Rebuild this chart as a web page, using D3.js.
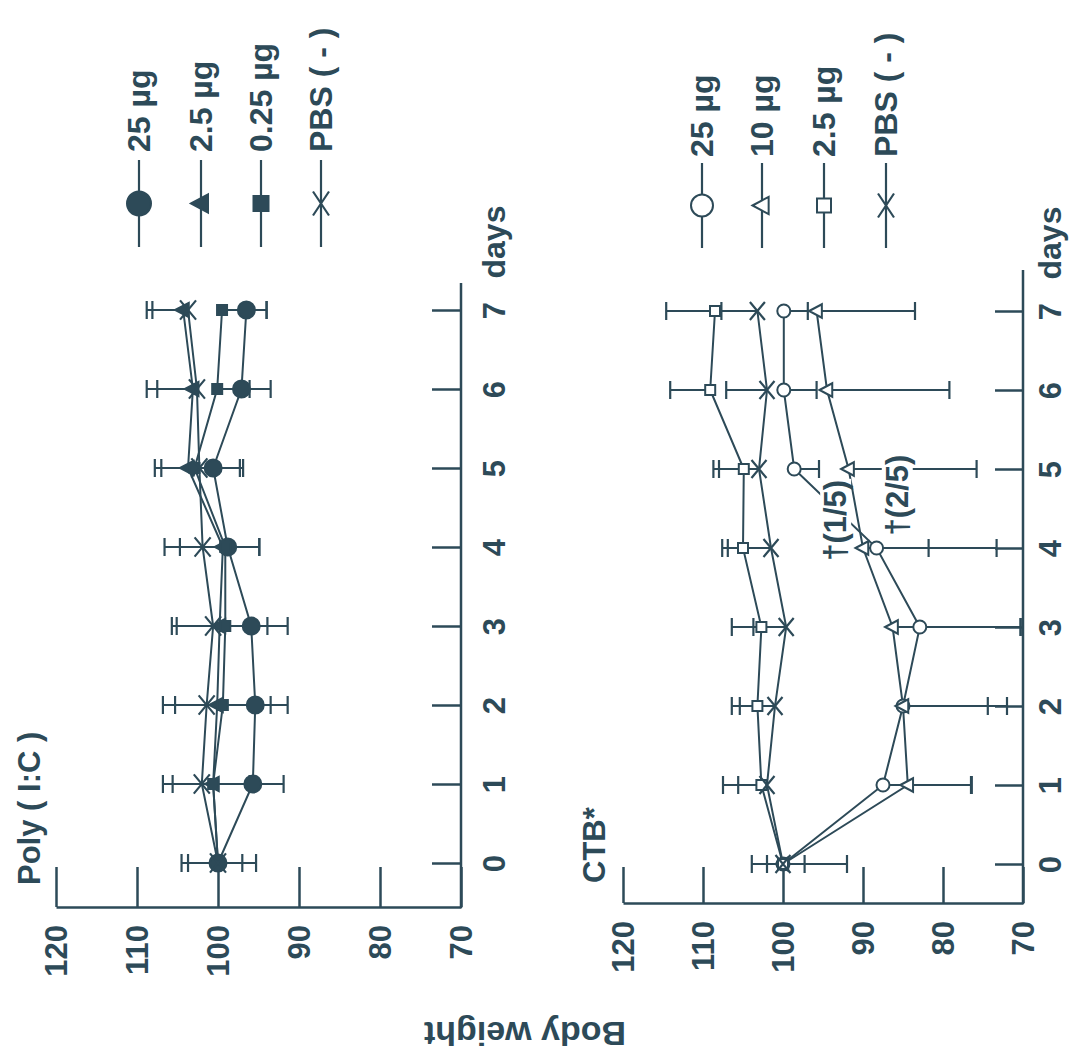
<!DOCTYPE html>
<html>
<head>
<meta charset="utf-8">
<script src="https://cdn.jsdelivr.net/npm/d3@7"></script>
<style>
  body { margin: 0; background: #fff; }
  text { font-family: "Liberation Sans", Arial, sans-serif; font-weight: bold; fill: #2d4a58; }
</style>
</head>
<body>
<div id="chart"></div>
<script>
// the figure is a scan that was turned 90 degrees: days run up the page, weight runs right-to-left

let days = [0, 1, 2, 3, 4, 5, 6, 7];
let weightTicks = [120, 110, 100, 90, 80, 70];

// ---- Poly (I:C) ----
let polyLabels = ["25 µg", "2.5 µg", "0.25 µg", "PBS ( - )"];
let poly25     = [100, 95.7, 95.4, 95.9, 98.8, 100.6, 97.1, 96.5];
let poly25Sd   = [4.7, 3.8, 4.0, 4.5, 3.9, 3.3, 3.6, 2.5];
let poly2_5    = [100, 100.6, 100.1, 99.8, 99.4, 103.7, 103.1, 104.3];
let poly2_5Sd  = [3.7, 5.0, 5.2, 5.3, 5.3, 4.1, 4.4, 3.8];
let poly0_25   = [100, 100.6, 99.4, 99.1, 99.1, 102.9, 100.1, 99.5];
let poly0_25Sd = [3.0, 4.5, 5.9, 5.2, 4.2, 6.0, 4.0, 5.5];
let polyPBS    = [100, 102.0, 101.4, 100.6, 101.9, 102.3, 102.6, 103.7];
let polyPBSSd  = [4.5, 4.8, 5.4, 5.1, 4.7, 4.7, 6.2, 5.1];

// ---- CTB* ----
let ctbLabels = ["25 µg", "10 µg", "2.5 µg", "PBS ( - )"];
let ctb25     = [100, 87.5, 85.0, 82.9, 88.3, 98.6, 99.9, 99.9];
let ctb25Sd   = [2.7, 11.0, 10.6, 12.6, 15.0, 3.1, 4.1, 3.0];
let ctb10     = [100, 84.4, 85.0, 86.3, 90.0, 91.8, 94.5, 95.8];
let ctb10Sd   = [8.0, 8.0, 13.0, 16.0, 8.2, 16.0, 15.3, 12.3];
let ctb2_5    = [100, 102.7, 103.2, 102.7, 105.0, 104.9, 109.1, 108.5];
let ctb2_5Sd  = [3.9, 4.8, 3.2, 3.7, 2.6, 3.8, 5.0, 6.1];
let ctbPBS    = [100, 102.0, 101.0, 99.6, 101.5, 103.0, 102.0, 103.2];
let ctbPBSSd  = [2.0, 3.6, 4.4, 4.1, 5.4, 5.0, 5.1, 4.5];

// deaths noted on the CTB panel: [text, day, weight]
let ctbNotes = [["†(1/5)", 4.35, 93.5], ["†(2/5)", 4.67, 85.8]];

let ink = "#2d4a58";

let svg = d3.select("#chart")
            .append("svg")
            .attr("width", 1089)
            .attr("height", 1057);

let panels = [
  {
    title: "Poly ( I:C )", titlePos: [40, 885],
    xRange: [56, 461], weightAxisY: 907, weightTick: 40,
    dayRange: [863, 310], dayAxisX: 461, dayTop: 283, dayTick: 29, dayLabelDx: 44,
    legendX: [139, 201, 261, 321], legendY: [160, 247], legendText: 152,
    labels: polyLabels, filled: true,
    series: [
      { values: poly25,   sd: poly25Sd,   dir: -1, shape: "circle" },
      { values: poly2_5,  sd: poly2_5Sd,  dir: 1,  shape: "triangle" },
      { values: poly0_25, sd: poly0_25Sd, dir: -1, shape: "square" },
      { values: polyPBS,  sd: polyPBSSd,  dir: 1,  shape: "x" }
    ],
    size:    { circle: 8.5, triangle: 8, square: 5, x: 8 },
    legSize: { circle: 12, triangle: 10, square: 7.5, x: 8 },
    notes: []
  },
  {
    title: "CTB*", titlePos: [605, 883],
    xRange: [623, 1023], weightAxisY: 903, weightTick: 36,
    dayRange: [864, 311], dayAxisX: 1023, dayTop: 270, dayTick: 28, dayLabelDx: 38,
    legendX: [702, 762, 824, 886], legendY: [163, 248], legendText: 157,
    labels: ctbLabels, filled: false,
    series: [
      { values: ctb25,  sd: ctb25Sd,  dir: -1, shape: "circle" },
      { values: ctb10,  sd: ctb10Sd,  dir: -1, shape: "triangle" },
      { values: ctb2_5, sd: ctb2_5Sd, dir: 1,  shape: "square" },
      { values: ctbPBS, sd: ctbPBSSd, dir: 1,  shape: "x" }
    ],
    size:    { circle: 6.5, triangle: 7.5, square: 5, x: 7.5 },
    legSize: { circle: 11, triangle: 9.5, square: 7, x: 8 },
    notes: ctbNotes
  }
];

function marker(g, shape, cx, cy, s, filled) {
  let fill = filled || shape === "x" ? ink : "white";
  if (shape === "circle") {
    g.append("circle").attr("cx", cx).attr("cy", cy).attr("r", s)
     .attr("fill", fill).attr("stroke", ink).attr("stroke-width", 2);
  } else if (shape === "triangle") {
    // original triangle points up; turned page makes it point left
    g.append("path")
     .attr("d", `M${cx - s},${cy}L${cx + s * 0.7},${cy - s * 0.9}L${cx + s * 0.7},${cy + s * 0.9}Z`)
     .attr("fill", fill).attr("stroke", ink).attr("stroke-width", 2);
  } else if (shape === "square") {
    g.append("rect").attr("x", cx - s).attr("y", cy - s).attr("width", 2 * s).attr("height", 2 * s)
     .attr("fill", fill).attr("stroke", ink).attr("stroke-width", 2);
  } else {
    let h = s * 1.2;
    g.append("path")
     .attr("d", `M${cx - s},${cy - h}L${cx + s},${cy + h}M${cx - s},${cy + h}L${cx + s},${cy - h}`)
     .attr("fill", "none").attr("stroke", ink).attr("stroke-width", 2.2);
  }
}

panels.forEach(p => {
  let x = d3.scaleLinear().domain([120, 70]).range(p.xRange);
  let y = d3.scaleLinear().domain([0, 7]).range(p.dayRange);
  let g = svg.append("g");

  // ----- weight axis (bottom of page) -----
  let wAxis = g.append("g")
      .attr("transform", `translate(0,${p.weightAxisY})`)
      .call(d3.axisBottom(x).tickValues(weightTicks).tickFormat(d3.format("d"))
              .tickSizeInner(-p.weightTick).tickSizeOuter(0));
  wAxis.attr("font-family", null).attr("font-size", null);
  wAxis.select(".domain").attr("stroke", ink).attr("stroke-width", 2.5);
  wAxis.selectAll(".tick line").attr("stroke", ink).attr("stroke-width", 2.5);
  wAxis.selectAll(".tick text")
      .attr("x", 0).attr("y", 0).attr("dy", "0.35em")
      .attr("transform", "translate(0,18) rotate(-90)")
      .attr("text-anchor", "end")
      .style("font-size", "31px")
      .attr("fill", ink);

  // ----- days axis (right side of page) -----
  let dAxis = g.append("g")
      .attr("transform", `translate(${p.dayAxisX},0)`)
      .call(d3.axisRight(y).tickValues(days).tickFormat(d3.format("d"))
              .tickSizeInner(-p.dayTick).tickSizeOuter(0));
  dAxis.attr("font-family", null).attr("font-size", null);
  dAxis.select(".domain").remove();
  dAxis.append("line")
      .attr("y1", p.weightAxisY + 1).attr("y2", p.dayTop)
      .attr("stroke", ink).attr("stroke-width", 2.5);
  dAxis.selectAll(".tick line").attr("stroke", ink).attr("stroke-width", 2.5);
  dAxis.selectAll(".tick text")
      .attr("x", 0).attr("y", 0).attr("dy", 0)
      .attr("transform", `translate(${p.dayLabelDx},0) rotate(-90)`)
      .attr("text-anchor", "middle")
      .style("font-size", "31px")
      .attr("fill", ink);
  dAxis.append("text")
      .attr("transform", `translate(${p.dayLabelDx},${y(7) - 68}) rotate(-90)`)
      .attr("text-anchor", "middle")
      .style("font-size", "32px")
      .text("days");

  // ----- title -----
  g.append("text")
      .attr("transform", `translate(${p.titlePos[0]},${p.titlePos[1]}) rotate(-90)`)
      .style("font-size", "31px")
      .text(p.title);

  // ----- lines -----
  let line = d3.line()
      .x(d => x(d.w))
      .y(d => y(d.day));

  p.series.forEach(s => {
    let pts = days.map((d, i) => ({ day: d, w: s.values[i] }));
    g.append("path")
        .datum(pts)
        .attr("d", line)
        .attr("fill", "none")
        .attr("stroke", ink)
        .attr("stroke-width", 2);
  });

  // ----- one-sided error bars -----
  p.series.forEach(s => {
    days.forEach((d, i) => {
      let x0 = x(s.values[i]);
      let x1 = x(s.values[i] + s.dir * s.sd[i]);
      let yy = y(d);
      g.append("line").attr("x1", x0).attr("x2", x1).attr("y1", yy).attr("y2", yy)
          .attr("stroke", ink).attr("stroke-width", 2);
      g.append("line").attr("x1", x1).attr("x2", x1).attr("y1", yy - 9).attr("y2", yy + 9)
          .attr("stroke", ink).attr("stroke-width", 2.2);
    });
  });

  // ----- markers -----
  p.series.forEach(s => {
    days.forEach((d, i) => {
      marker(g, s.shape, x(s.values[i]), y(d), p.size[s.shape], p.filled);
    });
  });

  // ----- notes with white box behind -----
  p.notes.forEach(n => {
    let ng = g.append("g")
        .attr("transform", `translate(${x(n[2])},${y(n[1])}) rotate(-90)`);
    let t = ng.append("text")
        .attr("text-anchor", "middle")
        .attr("dy", "0.36em")
        .style("font-size", "31px")
        .text(n[0]);
    let b = t.node().getBBox();
    ng.insert("rect", "text")
        .attr("x", b.x - 1).attr("y", b.y + 2)
        .attr("width", b.width + 2).attr("height", b.height - 4)
        .attr("fill", "white");
  });

  // ----- legend -----
  p.series.forEach((s, i) => {
    let lx = p.legendX[i];
    let lg = g.append("g");
    lg.append("line")
        .attr("x1", lx).attr("x2", lx)
        .attr("y1", p.legendY[0]).attr("y2", p.legendY[1])
        .attr("stroke", ink).attr("stroke-width", 2.2);
    let my = (p.legendY[0] + p.legendY[1]) / 2;
    if (s.shape === "x") {
      let sx = p.legSize.x, h = 12;
      lg.append("path")
          .attr("d", `M${lx - sx},${my - h}L${lx + sx},${my + h}M${lx - sx},${my + h}L${lx + sx},${my - h}`)
          .attr("stroke", ink).attr("stroke-width", 2.2).attr("fill", "none");
    } else {
      marker(lg, s.shape, lx, my, p.legSize[s.shape], p.filled);
    }
    lg.append("text")
        .attr("transform", `translate(${lx + 11},${p.legendText}) rotate(-90)`)
        .style("font-size", "32px")
        .text(p.labels[i]);
  });
});

// shared axis title, upside down on the turned page
svg.append("text")
    .attr("transform", "translate(525,1022) rotate(180)")
    .attr("text-anchor", "middle")
    .style("font-size", "34px")
    .text("Body weight");
</script>
</body>
</html>
